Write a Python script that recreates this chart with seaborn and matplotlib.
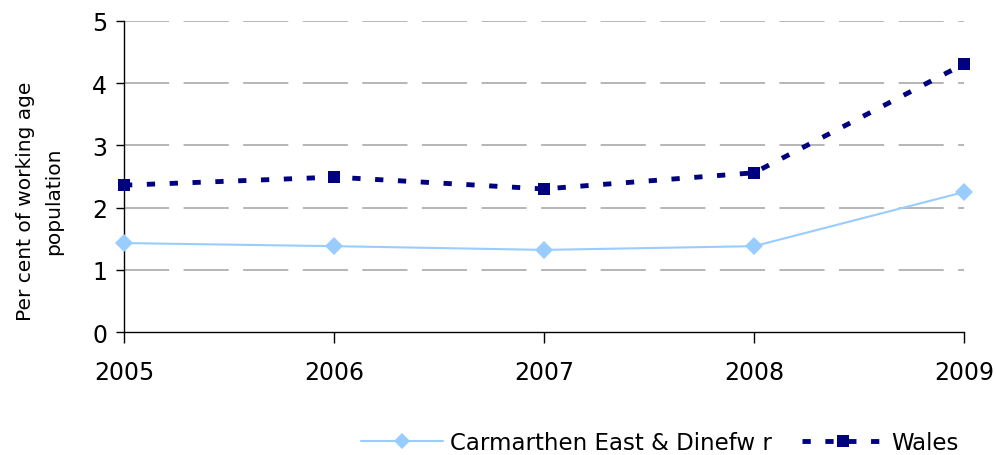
import pandas as pd
import matplotlib
matplotlib.use("Agg")
import matplotlib.pyplot as plt
import seaborn as sns
from matplotlib.lines import Line2D

# dados
anos = [2005, 2006, 2007, 2008, 2009]
carmarthen = [1.43, 1.38, 1.32, 1.38, 2.25]
wales = [2.36, 2.49, 2.30, 2.56, 4.31]
series = ["Carmarthen East & Dinefw r", "Wales"]

dados = pd.DataFrame({
    "ano": anos * 2,
    "valor": carmarthen + wales,
    "serie": [series[0]] * len(anos) + [series[1]] * len(anos),
})

sns.set_style("white")
plt.rcParams["font.family"] = ["DejaVu Sans"]

fig = plt.figure(figsize=(9.96, 4.56), dpi=100)
ax = fig.add_axes([0.1245, 0.2697, 0.8435, 0.6821])

# linhas de grade
for y in range(1, 6):
    ax.axhline(y, color="#b0b0b0", lw=1.3, dashes=(25, 8), zorder=0)

sns.lineplot(data=dados, x="ano", y="valor", hue="serie", style="serie",
             palette={series[0]: "#99ccff", series[1]: "#000080"},
             dashes={series[0]: "", series[1]: (1.7, 3.0)},
             markers={series[0]: "D", series[1]: "s"},
             markersize=9, markeredgewidth=0, ax=ax, legend=False, zorder=3)
for line, lw in zip(ax.get_lines()[-2:], [1.5, 3.5]):
    line.set_linewidth(lw)
    line.set_clip_on(False)

ax.set_xlim(2005, 2009)
ax.set_ylim(0, 5)
ax.set_xticks(anos)
ax.set_yticks(range(0, 6))
ax.set_xlabel("")
ax.set_ylabel("Per cent of working age\npopulation", fontsize=14.5, color="black",
              linespacing=1.6)
ax.yaxis.set_label_coords(-0.073, 0.425)
ax.tick_params(axis="both", labelsize=17, colors="black")
ax.tick_params(axis="x", length=8, width=1, direction="out", bottom=True, pad=12)
ax.tick_params(axis="y", length=6, width=1, direction="out", left=True, pad=6)
sns.despine(ax=ax)
for s in ["left", "bottom"]:
    ax.spines[s].set_color("black")
    ax.spines[s].set_linewidth(1)

# legenda
handles = [
    Line2D([], [], color="#99ccff", lw=1.5, marker="D", markersize=8, markeredgewidth=0),
    Line2D([], [], color="#000080", lw=3.5, dashes=(1.7, 3.0), marker="s", markersize=8, markeredgewidth=0),
]
fig.legend(handles, series, loc="lower right", bbox_to_anchor=(0.983, -0.043), ncol=2,
           frameon=False, fontsize=16.5, handlelength=3.6, handletextpad=0.3,
           columnspacing=1.3, labelcolor="black")

plt.savefig("out.png", dpi=100)
